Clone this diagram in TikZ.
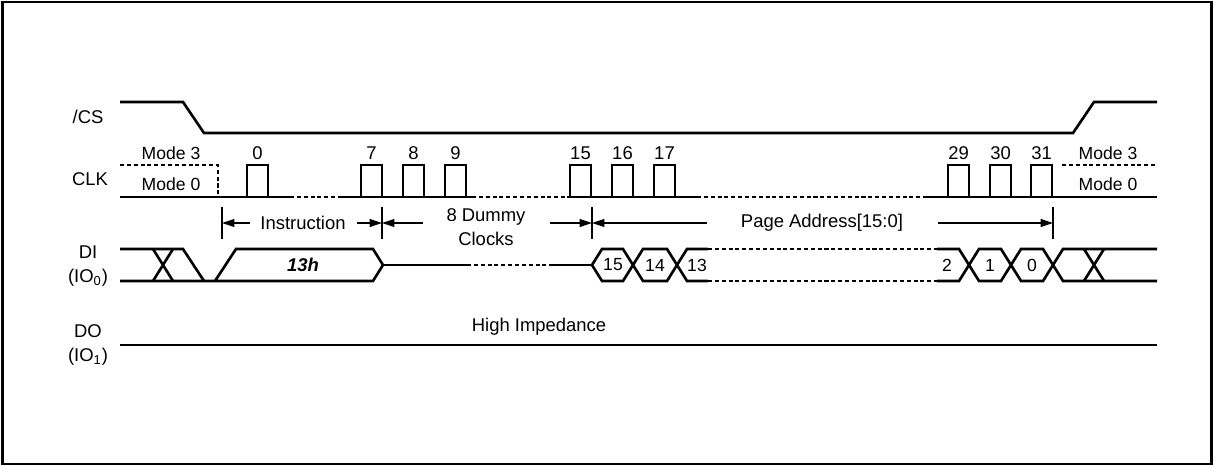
\documentclass[tikz,border=0pt]{standalone}
\usepackage{fontspec}
\setmainfont{Liberation Sans}
\usetikzlibrary{positioning,arrows.meta}
\tikzset{
	%Define standard arrow tip
	>={Triangle[length=7pt,width=4.5pt]},
	% signal lines
	sig/.style={line width=1.5pt, line join=miter},
	sigdash/.style={sig, dash pattern=on 2.3pt off 1.6pt},
	% dimension lines
	dim/.style={->, line width=0.6pt},
	dimtick/.style={line width=0.6pt},
	% labels
	lbl/.style={font=\fontsize{10.5}{13.7}\selectfont, inner sep=0pt, align=center},
	modelbl/.style={font=\fontsize{10}{12}\selectfont, inner sep=0pt},
	bitlbl/.style={font=\fontsize{10}{11}\selectfont, inner sep=0pt}
}

\begin{document}
\begin{tikzpicture}[x=0.02cm, y=-0.02cm]
	\useasboundingbox (0,0) rectangle (1213,466);
	\draw[line width=1.4pt] (2.5,2) rectangle (1211.5,464);
	% signal names
	\node[lbl] (cs) at (88,117) {/CS};
	\node[lbl] (clk) at (90,179) {CLK};
	\node[lbl] (di) at (88,266) {DI\\(IO\textsubscript{0})};
	\node[lbl] (do) at (88,345) {DO\\(IO\textsubscript{1})};
	% chip select
	\draw[sig] (120,102) -- (183,102) -- (204,133) -- (1073,133) -- (1094,102) -- (1157,102);
	% clock, idle levels
	\draw[sigdash] (120,165) -- (218,165) -- (218,197);
	\draw[sigdash] (1062,165) -- (1157,165);
	\node[modelbl] (m3l) at (171,153) {Mode 3};
	\node[modelbl] (m0l) at (171,184) {Mode 0};
	\node[modelbl] (m3r) at (1108,153) {Mode 3};
	\node[modelbl] (m0r) at (1108,184) {Mode 0};
	% clock, low line
	\draw[sig] (120,197) -- (290,197);
	\draw[sigdash] (290,197) -- (338,197);
	\draw[sig] (338,197) -- (472,197);
	\draw[sigdash] (472,197) -- (567,197);
	\draw[sig] (567,197) -- (697,197);
	\draw[sigdash] (697,197) -- (925,197);
	\draw[sig] (925,197) -- (1157,197);
	% clock pulses
	\foreach \x/\n in {247/0,361/7,403/8,445/9,570/15,612/16,654/17,948/29,990/30,1031/31}{
		\draw[sig] (\x,197) -- (\x,165) -- ++(21,0) -- ++(0,32);
		\node[lbl] (c\n) at (\x+10.5,153) {\n};
	}
	% dimensions
	\foreach \x/\t in {222/ta,382/tb,592/tc,1053/td}{
		\draw[dimtick] (\x,207) -- (\x,239);
		\coordinate (\t) at (\x,223);
	}
	\node[lbl] (instr) at (303,223) {Instruction};
	\node[lbl] (dummy) at (486,227) {8 Dummy\\Clocks};
	\node[lbl] (addr) at (822,223) {Page Address[15:0]};
	\coordinate (instrl) at (250,223);
	\coordinate (instrr) at (357,223);
	\coordinate (dummyl) at (423,223);
	\coordinate (dummyr) at (550,223);
	\coordinate (addrl) at (707,223);
	\coordinate (addrr) at (938,223);
	\draw[dim] (instrl) -- (ta);
	\draw[dim] (instrr) -- (tb);
	\draw[dim] (dummyl) -- (tb);
	\draw[dim] (dummyr) -- (tc);
	\draw[dim] (addrl) -- (tc);
	\draw[dim] (addrr) -- (td);
	% data in, instruction
	\draw[sig] (120,249) -- (183,249) -- (204,281);
	\draw[sig] (153,249) -- (173,281) (153,281) -- (173,249);
	\draw[sig] (120,281) -- (373,281) -- (383,265) -- (373,249) -- (236,249) -- (215,281);
	\node[lbl, font=\fontsize{10.5}{12}\selectfont\bfseries\itshape] (code) at (303,265) {13h};
	% data in, dummy clocks
	\draw[sig] (383,265) -- (467,265);
	\draw[sigdash] (467,265) -- (550,265);
	\draw[sig] (550,265) -- (592,265);
	% data in, address bits
	\draw[sig] (592,265) -- (602,249) -- (623,249) -- (643,281) -- (667,281) -- (687,249) -- (708,249);
	\draw[sig] (592,265) -- (602,281) -- (623,281) -- (643,249) -- (667,249) -- (687,281) -- (708,281);
	\draw[sigdash] (708,249) -- (937,249) (708,281) -- (937,281);
	\draw[sig] (937,249) -- (959,249) -- (979,281) -- (1001,281) -- (1021,249) -- (1043,249) -- (1063,281) -- (1157,281);
	\draw[sig] (937,281) -- (959,281) -- (979,249) -- (1001,249) -- (1021,281) -- (1043,281) -- (1063,249) -- (1157,249);
	\draw[sig] (1084,249) -- (1104,281) (1084,281) -- (1104,249);
	\foreach \x/\n in {613/15,655/14,697/13,947/2,990/1,1032/0}{
		\node[bitlbl] (b\n) at (\x,265) {\n};
	}
	% data out
	\draw[sig] (120,345) -- (1157,345);
	\node[lbl] (hiz) at (539,327) {High Impedance};
\end{tikzpicture}
\end{document}
